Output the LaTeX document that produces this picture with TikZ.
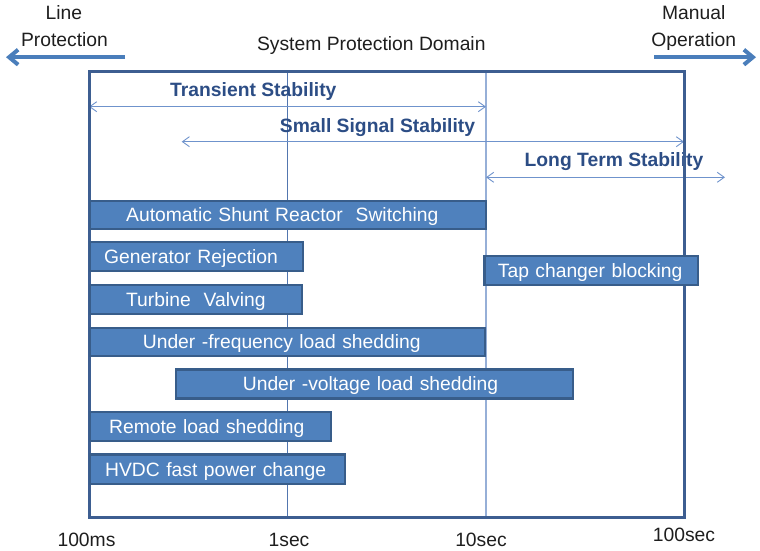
\documentclass[tikz,border=0pt]{standalone}
\usepackage{fontspec}
\setmainfont{Liberation Sans}
\usetikzlibrary{arrows.meta}
\definecolor{barfill}{RGB}{79,129,189}
\definecolor{barline}{RGB}{56,93,138}
\definecolor{frameblue}{RGB}{61,94,145}
\definecolor{darktext}{RGB}{44,77,133}
\definecolor{thinarrow}{RGB}{111,147,204}
\definecolor{bigarrow}{RGB}{74,126,187}
\definecolor{gridA}{RGB}{82,118,175}
\definecolor{gridB}{RGB}{150,175,215}
\definecolor{txtgray}{RGB}{30,30,30}
\tikzset{
  base font/.style={font=\fontsize{19.3}{28.4}\selectfont},
  plain/.style={base font, text=txtgray, inner sep=0pt, text height=13.8pt, text depth=0pt},
  boldlbl/.style={base font, font=\fontsize{19.3}{28.4}\selectfont\bfseries, text=darktext, inner sep=0pt, text height=13.8pt, text depth=0pt},
  bar/.style={base font, draw=barline, fill=barfill, line width=2.3pt, text=white, anchor=north west,
              inner xsep=0pt, inner ysep=0pt, text height=13.8pt, text depth=0pt, align=left},
  bigarr/.style={draw=bigarrow, line width=4pt, -{Straight Barb[length=9pt,width=15pt]}},
  spanarr/.style={draw=thinarrow, line width=0.9pt, {Straight Barb[length=7pt,width=10pt]}-{Straight Barb[length=7pt,width=10pt]}},
}
\begin{document}
\begin{tikzpicture}[x=1pt,y=-1pt]
\useasboundingbox (0,0) rectangle (760,550);
% timeline coordinates
\coordinate (t0top) at (89,71);
\coordinate (t0bot) at (89,517);
\coordinate (t1top) at (287.3,71);
\coordinate (t1bot) at (287.3,517);
\coordinate (t2top) at (486,71);
\coordinate (t2bot) at (486,517);
\coordinate (t3top) at (684,71);
\coordinate (t3bot) at (684,517);
% grid lines
\draw[gridA, line width=1pt] (t1top) -- (t1bot);
\draw[gridB, line width=1.5pt] (t2top) -- (t2bot);
% stability spans
\coordinate (tsA) at (89,106.7);   \coordinate (tsB) at (486,106.7);
\coordinate (ssA) at (181.7,141.7); \coordinate (ssB) at (684,141.7);
\coordinate (ltA) at (486,177.3);  \coordinate (ltB) at (725,177.3);
\draw[spanarr] (tsA) -- (tsB);
\draw[spanarr] (ssA) -- (ssB);
\draw[spanarr] (ltA) -- (ltB);
\node[boldlbl] (ts) at (253.3,89.7) {Transient Stability};
\node[boldlbl] (ss) at (377.5,125.8) {Small Signal Stability};
\node[boldlbl] (lt) at (614,159.7) {Long Term Stability};
% top labels and arrows
\node[plain] (line) at (63.8,12.8) {Line};
\node[plain] (prot) at (64.5,40) {Protection};
\node[plain] (man) at (693.7,13) {Manual};
\node[plain] (oper) at (693.8,40) {Operation};
\node[plain] (dom) at (371.3,43.7) {System Protection Domain};
\coordinate (lpS) at (125,57.2); \coordinate (lpE) at (6,57.2);
\coordinate (moS) at (654,57.2); \coordinate (moE) at (756,57.2);
\draw[bigarr] (lpS) -- (lpE);
\draw[bigarr] (moS) -- (moE);
% frame
\draw[frameblue, line width=3pt] (t0top) -- (t3top) -- (t3bot) -- (t0bot) -- cycle;
% bars
\node[bar, text width=396pt, minimum height=28pt] (asr) at (89,199.5) {\hspace*{36pt}Automatic Shunt Reactor\ \ Switching};
\node[bar, text width=212.5pt, minimum height=29pt] (gen) at (89,241) {\hspace*{14pt}Generator Rejection};
\node[bar, text width=212pt, minimum height=28.7pt] (turb) at (89,284) {\hspace*{36pt}Turbine\ \ Valving};
\node[bar, text width=395pt, minimum height=28.3pt] (ufls) at (89,326.7) {\hspace*{52.7pt}Under -frequency load shedding};
\node[bar, text width=396.7pt, minimum height=29pt] (uvls) at (175,368.3) {\hspace*{66.7pt}Under -voltage load shedding};
\node[bar, text width=241pt, minimum height=29pt] (rls) at (89,411) {\hspace*{19pt}Remote load shedding};
\node[bar, text width=255pt, minimum height=29.4pt] (hvdc) at (89,453.3) {\hspace*{15pt}HVDC fast power change};
\node[bar, text width=213.4pt, minimum height=29pt] (tap) at (483.3,255) {\hspace*{13.4pt}Tap changer blocking};
% axis labels
\node[plain] (l0) at (86.5,540) {100ms};
\node[plain] (l1) at (289,540) {1sec};
\node[plain] (l2) at (481,540) {10sec};
\node[plain] (l3) at (684,535) {100sec};
\end{tikzpicture}
\end{document}
